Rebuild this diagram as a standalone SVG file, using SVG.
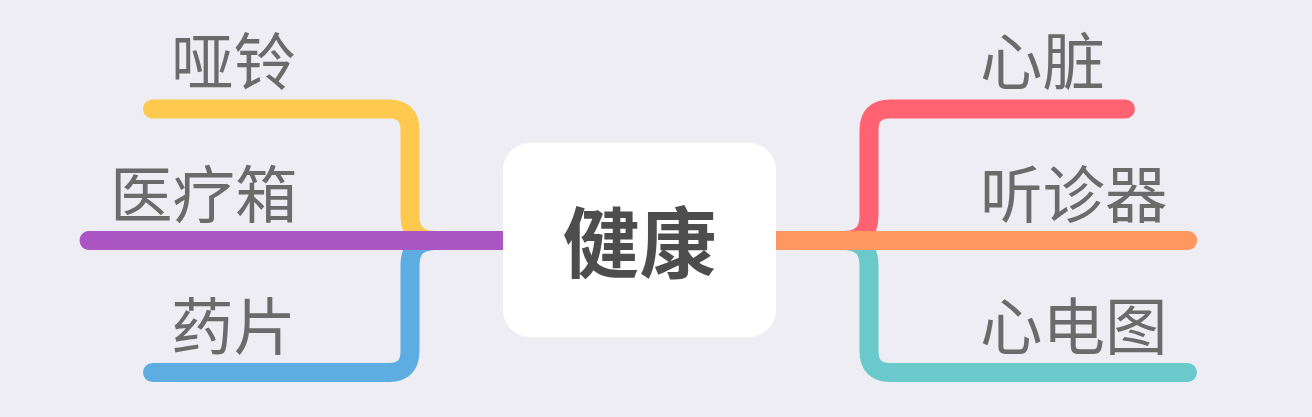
<svg xmlns="http://www.w3.org/2000/svg" width="1312" height="417" viewBox="0 0 1312 417">
<style>
.bg{fill:#EEEDF3}
.br{fill:none;stroke-width:19;stroke-linecap:round;stroke-linejoin:round}
.lbl{font-family:"Noto Sans CJK SC","Noto Sans",sans-serif;font-size:62.5px;fill:#6B6B6B}
.ctr{font-family:"Noto Sans CJK SC","Noto Sans",sans-serif;font-size:77px;font-weight:bold;fill:#4D4D4D}
</style>
<rect class="bg" x="0" y="0" width="1312" height="417"/>
<g id="connectors">
<path class="br" stroke="#FDC94F" d="M436 240.5 Q410 240.5 410 216 L410 130 Q410 109 389 109 L152.5 109"/>
<path class="br" stroke="#5DADE2" d="M436 240.5 Q410 240.5 410 265 L410 351 Q410 372.5 389 372.5 L152.5 372.5"/>
<path class="br" stroke="#AB54C4" stroke-linecap="butt" d="M503 240.5 L89 240.5"/>
<path class="br" stroke="#AB54C4" d="M120 240.5 L89.5 240.5"/>
<path class="br" stroke="#FF6372" d="M843 240.5 Q869 240.5 869 216 L869 130 Q869 109 890 109 L1125.5 109"/>
<path class="br" stroke="#69C9CB" d="M843 240.5 Q869 240.5 869 265 L869 351 Q869 372.5 890 372.5 L1187.5 372.5"/>
<path class="br" stroke="#FF9860" stroke-linecap="butt" d="M776 240.5 L1187.5 240.5"/>
<path class="br" stroke="#FF9860" d="M1150 240.5 L1187.5 240.5"/>
</g>
<g id="node-center">
<rect x="503" y="143" width="273" height="194" rx="27" fill="#FFFFFF"/>
<text class="ctr" x="639.5" y="272" text-anchor="middle">健康</text>
</g>
<g id="node-yaling"><text class="lbl" x="171" y="85">哑铃</text></g>
<g id="node-yiliaoxiang"><text class="lbl" x="110" y="218">医疗箱</text></g>
<g id="node-yaopian"><text class="lbl" x="171" y="350">药片</text></g>
<g id="node-xinzang"><text class="lbl" x="980" y="85">心脏</text></g>
<g id="node-tingzhenqi"><text class="lbl" x="980" y="218">听诊器</text></g>
<g id="node-xindiantu"><text class="lbl" x="980" y="350">心电图</text></g>
</svg>
